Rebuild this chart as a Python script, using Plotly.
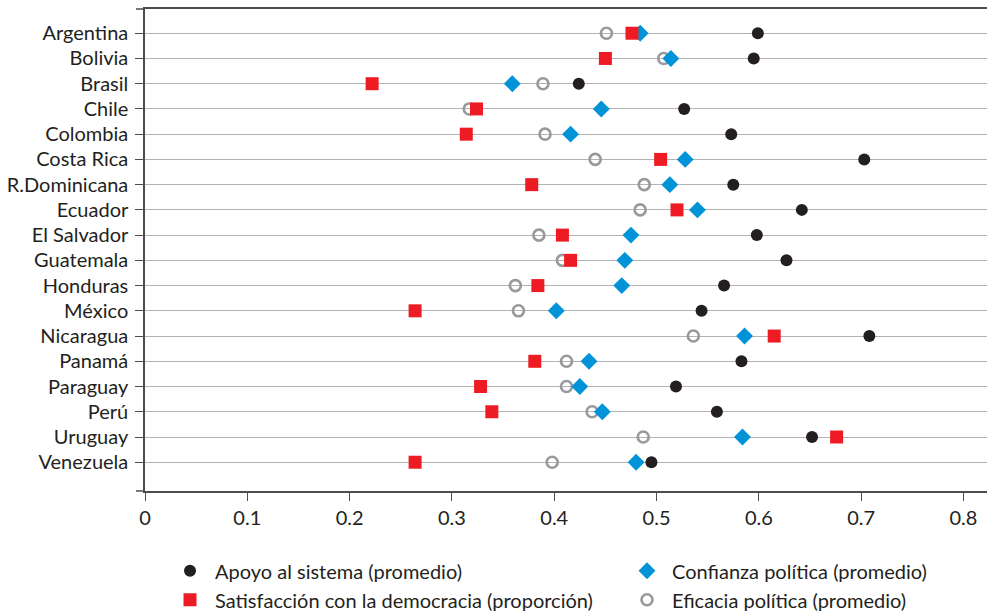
import plotly.graph_objects as go

countries = ["Argentina", "Bolivia", "Brasil", "Chile", "Colombia", "Costa Rica",
             "R.Dominicana", "Ecuador", "El Salvador", "Guatemala", "Honduras",
             "México", "Nicaragua", "Panamá", "Paraguay", "Perú", "Uruguay", "Venezuela"]

apoyo = [0.599, 0.595, 0.424, 0.527, 0.573, 0.703, 0.575, 0.642, 0.598, 0.627,
         0.566, 0.544, 0.708, 0.583, 0.519, 0.559, 0.652, 0.495]
satisfaccion = [0.476, 0.450, 0.222, 0.324, 0.314, 0.504, 0.378, 0.520, 0.408, 0.416,
                0.384, 0.264, 0.615, 0.381, 0.328, 0.339, 0.676, 0.264]
confianza = [0.484, 0.514, 0.359, 0.446, 0.416, 0.528, 0.513, 0.540, 0.475, 0.469,
             0.466, 0.402, 0.586, 0.434, 0.425, 0.447, 0.584, 0.480]
eficacia = [0.451, 0.507, 0.389, 0.317, 0.391, 0.440, 0.488, 0.484, 0.385, 0.408,
            0.362, 0.365, 0.536, 0.412, 0.412, 0.437, 0.487, 0.398]

x_ticks = [0, 0.1, 0.2, 0.3, 0.4, 0.5, 0.6, 0.7, 0.8]
x_ticktext = ["0", "0.1", "0.2", "0.3", "0.4", "0.5", "0.6", "0.7", "0.8"]

FONT = "Lato"
FS = 20
TXT = "#231f20"
AXIS = "#4d4d4d"

fig = go.Figure()

# drawing order: eficacia (bottom), confianza, satisfaccion, apoyo (top)
fig.add_trace(go.Scatter(
    x=eficacia, y=countries, mode="markers", name="Eficacia política (promedio)",
    marker=dict(symbol="circle-open", size=11, color="#97999c", line=dict(width=2.6, color="#97999c")),
    legend="legend2", legendrank=2))
fig.add_trace(go.Scatter(
    x=confianza, y=countries, mode="markers", name="Confianza política (promedio)",
    marker=dict(symbol="diamond", size=13, color="#0093d8"),
    legend="legend2", legendrank=1))
fig.add_trace(go.Scatter(
    x=satisfaccion, y=countries, mode="markers", name="Satisfacción con la democracia (proporción)",
    marker=dict(symbol="square", size=13, color="#ed1c24"),
    legend="legend", legendrank=2))
fig.add_trace(go.Scatter(
    x=apoyo, y=countries, mode="markers", name="Apoyo al sistema (promedio)",
    marker=dict(symbol="circle", size=12, color="#231f20"),
    legend="legend", legendrank=1))

n = len(countries)
W = 842.0

fig.update_layout(
    width=987, height=612,
    margin=dict(l=145, r=0, t=9, b=121, autoexpand=False),
    paper_bgcolor="white", plot_bgcolor="white",
    font=dict(family=FONT, size=FS, color=TXT),
    xaxis=dict(
        range=[0, 0.823], tickvals=x_ticks, ticktext=x_ticktext,
        showgrid=False, zeroline=False, automargin=False,
        showline=True, linecolor=AXIS, linewidth=1.5, mirror=True,
        ticks="outside", ticklen=8, tickwidth=1.2, tickcolor=AXIS,
        tickfont=dict(size=FS, color=TXT),
    ),
    yaxis=dict(
        type="category", categoryorder="array", categoryarray=countries,
        range=[n - 1 + 1.14, -0.96], automargin=False,
        showgrid=True, gridcolor="#b3b3b3", gridwidth=1.4,
        zeroline=False,
        showline=True, linecolor=AXIS, linewidth=1.5,
        ticks="outside", ticklen=8, tickwidth=1.2, tickcolor=AXIS,
        ticklabelstandoff=3,
        tickfont=dict(size=FS, color=TXT),
    ),
    legend=dict(
        x=(165 - 145) / W, xanchor="left", y=-0.125, yanchor="top",
        orientation="v", itemwidth=40, bgcolor="rgba(0,0,0,0)",
        font=dict(size=FS, color=TXT), tracegroupgap=0,
    ),
    legend2=dict(
        x=(622 - 145) / W, xanchor="left", y=-0.125, yanchor="top",
        orientation="v", itemwidth=40, bgcolor="rgba(0,0,0,0)",
        font=dict(size=FS, color=TXT), tracegroupgap=0,
    ),
    shapes=[
        dict(type="line", xref="paper", yref="paper", x0=-9 / W, x1=0, y0=1, y1=1,
             line=dict(color=AXIS, width=1.5)),
        dict(type="line", xref="paper", yref="paper", x0=-9 / W, x1=0, y0=0, y1=0,
             line=dict(color=AXIS, width=1.5)),
    ],
)

fig.write_html(
    "out.html",
    config={"displayModeBar": False},
    post_script="document.body.style.margin='0';document.body.style.overflow='hidden';",
)
